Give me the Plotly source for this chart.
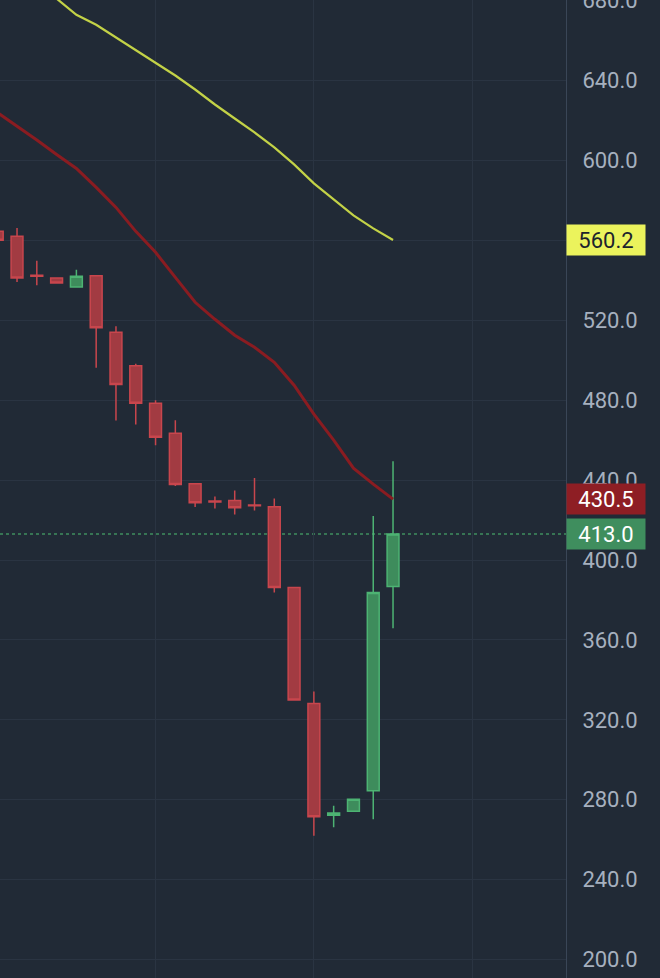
import plotly.graph_objects as go

# ---- data ----
idx = list(range(21))
opens = [564.5, 562.0, 542.5, 541.2, 536.7, 542.3, 514.0, 497.3, 478.5, 463.5, 438.2,
         429.5, 429.8, 427.6, 426.7, 386.2, 328.2, 272.2, 274.2, 284.5, 386.7]
highs = [565.5, 566.2, 549.8, 541.5, 545.3, 542.6, 517.0, 498.2, 480.0, 470.0, 438.5,
         431.8, 434.8, 441.0, 430.8, 386.6, 334.2, 277.0, 280.4, 422.0, 449.5]
lows = [559.5, 539.2, 537.5, 538.3, 536.5, 496.2, 469.8, 467.8, 457.5, 437.0, 426.5,
        425.8, 422.8, 424.8, 383.7, 329.6, 262.0, 266.2, 274.1, 270.3, 365.8]
closes = [560.0, 541.2, 542.0, 538.6, 542.0, 516.2, 487.8, 478.5, 461.5, 437.8, 428.7,
          429.0, 426.2, 427.2, 386.2, 329.9, 271.5, 273.4, 280.3, 383.7, 413.0]

slow_ma = [None, None, None, 681.0, 672.9, 667.9, 661.5, 655.0, 649.0, 642.5, 635.5,
           628.0, 621.0, 614.0, 606.5, 598.0, 588.5, 580.5, 572.5, 566.0, 560.2]
fast_ma = [624.0, 617.2, 610.2, 603.0, 596.0, 586.5, 576.5, 564.5, 554.0, 541.5, 529.0,
           520.5, 512.5, 506.5, 499.0, 487.5, 473.0, 460.0, 446.0, 438.0, 430.5]

y_ticks = [200, 240, 280, 320, 360, 400, 440, 480, 520, 560, 600, 640, 680]
y_tick_text = [f"{v:.1f}" for v in y_ticks]
x_grid = [8, 16, 24]

BG = "#212a36"
GRID = "#2a3442"
FONT = "Roboto"

fig = go.Figure()

fig.add_trace(go.Scatter(x=idx, y=fast_ma, mode="lines",
                         line=dict(color="#8a1c21", width=3), hoverinfo="skip",
                         showlegend=False))
fig.add_trace(go.Scatter(x=idx, y=slow_ma, mode="lines",
                         line=dict(color="#c3d247", width=2.2), hoverinfo="skip",
                         showlegend=False))

fig.add_trace(go.Candlestick(
    x=idx, open=opens, high=highs, low=lows, close=closes,
    increasing=dict(line=dict(color="#4db373", width=1.5), fillcolor="#3e8c5c"),
    decreasing=dict(line=dict(color="#c8464d", width=1.5), fillcolor="#a23b42"),
    whiskerwidth=0, showlegend=False,
))

last_close = closes[-1]
fig.add_shape(type="line", xref="paper", x0=0, x1=1, yref="y", y0=last_close, y1=last_close,
              line=dict(color="#3f8e5f", width=1.5, dash="dot"), layer="below")

labels = [
    (slow_ma[-1], "#ebf35c", "#1c232d"),
    (fast_ma[-1], "#8e1e24", "#ffffff"),
    (last_close, "#3f8e5e", "#ffffff"),
]
for val, bg, fg in labels:
    fig.add_annotation(xref="paper", x=1, xanchor="left", yref="y", y=val, yanchor="middle",
                       text=f"{val:.1f}", showarrow=False, bgcolor=bg,
                       font=dict(family=FONT, size=22, color=fg),
                       width=78, height=30, align="center", borderpad=0)

fig.update_layout(
    width=660, height=978,
    margin=dict(l=0, r=94, t=0, b=0, autoexpand=False),
    paper_bgcolor=BG, plot_bgcolor=BG,
    showlegend=False,
    boxgap=0.4, boxgroupgap=0,
    xaxis=dict(range=[0.14, 28.74], rangeslider=dict(visible=False),
               tickmode="array", tickvals=x_grid, showticklabels=False,
               showgrid=True, gridcolor=GRID, gridwidth=1, zeroline=False,
               showline=False, fixedrange=True, automargin=False),
    yaxis=dict(range=[190.8, 680.3], side="right", tickmode="array",
               tickvals=y_ticks, ticktext=y_tick_text,
               showgrid=True, gridcolor=GRID, gridwidth=1, zeroline=False,
               showline=True, linecolor="#3a4657", linewidth=1,
               ticks="", ticklabelstandoff=11, ticklabeloverflow="allow",
               automargin=False,
               tickfont=dict(family=FONT, size=22, color="#a6b0bf")),
)

fig.write_html(
    "out.html",
    config={"displayModeBar": False},
    post_script="document.body.style.margin='0';document.body.style.background='#212a36';",
)
